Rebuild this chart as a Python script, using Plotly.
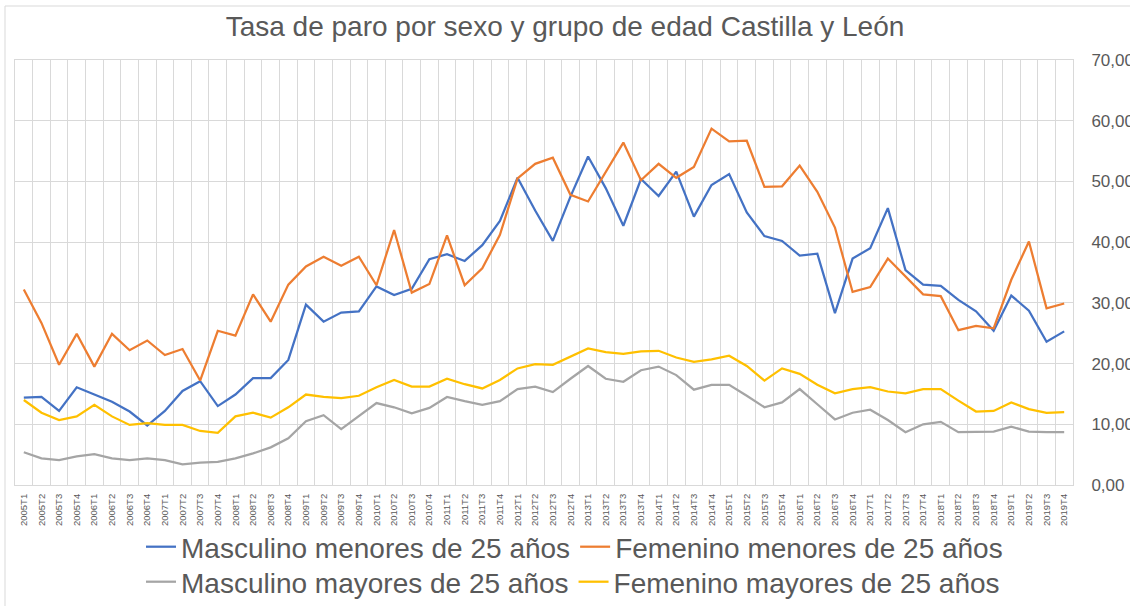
import plotly.graph_objects as go

years = list(range(2005, 2020))
quarters = [f"{y}T{q}" for y in years for q in range(1, 5)]

masc_menores = [14.4, 14.5, 12.2, 16.1, 14.9, 13.7, 12.1, 9.8, 12.2, 15.5,
                17.1, 13.0, 14.9, 17.6, 17.6, 20.6, 29.7, 26.9, 28.4, 28.6,
                32.7, 31.3, 32.3, 37.2, 38.0, 36.9, 39.5, 43.5, 50.6, 45.2,
                40.2, 47.5, 54.1, 48.9, 42.7, 50.4, 47.6, 51.6, 44.2, 49.4,
                51.2, 44.9, 41.0, 40.2, 37.8, 38.1, 28.3, 37.3, 39.0, 45.6,
                35.4, 33.0, 32.8, 30.5, 28.6, 25.4, 31.2, 28.7, 23.6, 25.3]

fem_menores = [32.2, 26.7, 19.8, 24.9, 19.5, 24.9, 22.2, 23.8, 21.4, 22.4,
               17.2, 25.4, 24.6, 31.4, 26.9, 33.0, 36.0, 37.6, 36.1, 37.6,
               32.9, 42.0, 31.7, 33.1, 41.1, 32.9, 35.7, 41.2, 50.5, 52.9,
               53.9, 47.8, 46.7, 51.6, 56.4, 50.2, 52.9, 50.6, 52.4, 58.7,
               56.6, 56.7, 49.1, 49.2, 52.6, 48.3, 42.4, 31.8, 32.6, 37.3,
               34.3, 31.4, 31.1, 25.5, 26.2, 25.8, 33.8, 40.1, 29.1, 29.9]

masc_mayores = [5.4, 4.4, 4.1, 4.7, 5.1, 4.4, 4.1, 4.4, 4.1, 3.4,
                3.7, 3.8, 4.4, 5.2, 6.2, 7.7, 10.5, 11.5, 9.2, 11.3,
                13.5, 12.8, 11.8, 12.7, 14.5, 13.8, 13.2, 13.8, 15.8, 16.2,
                15.3, 17.5, 19.6, 17.5, 17.0, 18.9, 19.5, 18.1, 15.7, 16.5,
                16.5, 14.7, 12.8, 13.6, 15.8, 13.3, 10.8, 11.9, 12.4, 10.7,
                8.7, 10.0, 10.4, 8.7, 8.8, 8.8, 9.6, 8.8, 8.7, 8.7]

fem_mayores = [14.0, 11.9, 10.7, 11.3, 13.2, 11.3, 9.9, 10.2, 9.9, 9.9,
               8.9, 8.6, 11.3, 11.9, 11.1, 12.8, 14.9, 14.5, 14.3, 14.7,
               16.1, 17.3, 16.2, 16.2, 17.5, 16.6, 15.9, 17.3, 19.2, 19.9,
               19.8, 21.1, 22.5, 21.9, 21.6, 22.0, 22.1, 21.0, 20.3, 20.7,
               21.3, 19.6, 17.2, 19.2, 18.3, 16.5, 15.1, 15.8, 16.1, 15.4,
               15.1, 15.8, 15.8, 13.9, 12.1, 12.2, 13.6, 12.5, 11.9, 12.0]

series_names = ["Masculino menores de 25 años", "Femenino menores de 25 años",
                "Masculino mayores de 25 años", "Femenino mayores de 25 años"]
series_values = [masc_menores, fem_menores, masc_mayores, fem_mayores]
series_colors = ["#4472C4", "#ED7D31", "#A5A5A5", "#FFC000"]
series_legend = ["legend", "legend", "legend2", "legend2"]

FONT = "Liberation Sans, Arial, sans-serif"
TXT = "#595959"
GRID = "#D9D9D9"

fig = go.Figure()
for name, vals, col, lg in zip(series_names, series_values, series_colors, series_legend):
    fig.add_trace(go.Scatter(x=quarters, y=vals, name=name, mode="lines",
                             legend=lg, line=dict(color=col, width=2.25)))

legend_common = dict(orientation="h", xref="container", yref="container",
                     x=141 / 1130, xanchor="left", yanchor="middle",
                     font=dict(family=FONT, size=28, color=TXT),
                     itemwidth=30, tracegroupgap=0, bgcolor="rgba(0,0,0,0)")

fig.update_layout(
    width=1130, height=606,
    paper_bgcolor="white", plot_bgcolor="white",
    separators=",.",
    margin=dict(l=15, r=57, t=60, b=121, autoexpand=False),
    title=dict(text="Tasa de paro por sexo y grupo de edad Castilla y León",
               x=0.5, xanchor="center", y=1 - 26 / 606, yanchor="middle",
               font=dict(family=FONT, size=28, color=TXT)),
    font=dict(family=FONT, color=TXT),
    xaxis=dict(type="category", tickangle=-90, tickson="boundaries",
               tickmode="array", tickvals=quarters, ticktext=quarters,
               showgrid=True, gridcolor=GRID, gridwidth=1,
               showline=True, linecolor=GRID, mirror=True,
               ticks="", tickfont=dict(family=FONT, size=9.5, color=TXT),
               ticklabelstandoff=4, range=[-0.5, 59.5]),
    yaxis=dict(side="right", range=[0, 70], dtick=10, tickformat=".2f",
               showgrid=True, gridcolor=GRID, gridwidth=1,
               showline=True, linecolor=GRID, mirror=True, zeroline=False,
               ticks="", ticklabelstandoff=14,
               tickfont=dict(family=FONT, size=17, color=TXT)),
    legend=dict(legend_common, y=1 - 547 / 606),
    legend2=dict(legend_common, y=1 - 582 / 606),
    showlegend=True,
    shapes=[dict(type="rect", xref="paper", yref="paper", layer="below",
                 x0=-10 / 1058, x1=1.2, y0=-0.5, y1=(485 - 6) / 425,
                 line=dict(color=GRID, width=1), fillcolor="rgba(0,0,0,0)")],
)

fig.write_html("out.html", config={"displayModeBar": False},
               post_script="document.body.style.margin='0px';")
